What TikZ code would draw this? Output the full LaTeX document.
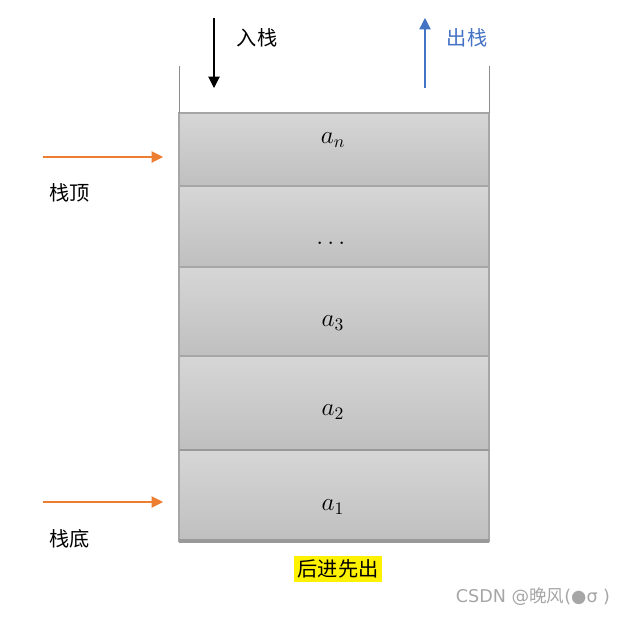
\documentclass[tikz,border=0pt]{standalone}
\usepackage{amsfonts, amssymb, amsmath}
\usepackage{xcolor}
\usepackage{fontspec}
\usepackage{tikz}
\usetikzlibrary{arrows.meta}
\newfontfamily\cjk{Noto Sans CJK SC}
\newfontfamily\symfont{DejaVu Sans}
\definecolor{popblue}{HTML}{4472C4}
\definecolor{markorange}{HTML}{ED7D31}

\begin{document}
\begin{tikzpicture}[x=0.02cm, y=-0.02cm,
  cell/.style={top color=black!16, bottom color=black!25, draw=black!35, line width=0.6pt},
  label/.style={font=\cjk\fontsize{11.5}{13}\selectfont},
  elem/.style={font=\fontsize{14}{16}\selectfont},
  tip/.style={-{Triangle[length=6.5pt,width=6.5pt]}}]
  % Fix the page size
  \useasboundingbox (0,0) rectangle (629,616);

  % Draw the stack cells
  \fill[cell] (179,113) rectangle (489,186);
  \fill[cell] (179,186) rectangle (489,267);
  \fill[cell] (179,267) rectangle (489,356);
  \fill[cell] (179,356) rectangle (489,450);
  \fill[cell] (179,450) rectangle (489,541);
  \draw[black!35, line width=0.6pt] (179,113) rectangle (489,541);
  \draw[black!35, line width=0.6pt] (179,186) -- (489,186);
  \draw[black!35, line width=0.6pt] (179,267) -- (489,267);
  \draw[black!35, line width=0.6pt] (179,356) -- (489,356);
  \draw[black!40, line width=1.2pt] (179,450) -- (489,450);
  \draw[black!40, line width=1.8pt] (179,541) -- (489,541);

  % Open top of the stack
  \draw[black!45, line width=0.4pt] (179,66) -- (179,113);
  \draw[black!45, line width=0.4pt] (489,66) -- (489,113);

  % Elements
  \node[elem] (an) at (333,140) {$a_n$};
  \node[elem] (dots) at (333,243) {$\dots$};
  \node[elem] (a3) at (333,323) {$a_3$};
  \node[elem] (a2) at (333,412) {$a_2$};
  \node[elem] (a1) at (333,507) {$a_1$};

  % Push and pop arrows
  \coordinate (pushstart) at (214,18);
  \coordinate (pushend) at (214,88);
  \draw[tip, line width=0.6pt] (pushstart) -- (pushend);
  \node[label] (push) at (257,38) {入栈};
  \coordinate (popstart) at (425,88);
  \coordinate (popend) at (425,18);
  \draw[tip, popblue, line width=0.6pt] (popstart) -- (popend);
  \node[label, text=popblue] (pop) at (467,38) {出栈};

  % Top and bottom markers
  \coordinate (topstart) at (43,157);
  \coordinate (topend) at (163,157);
  \draw[tip, markorange, line width=0.6pt] (topstart) -- (topend);
  \node[label] (top) at (70,193) {栈顶};
  \coordinate (botstart) at (43,502);
  \coordinate (botend) at (163,502);
  \draw[tip, markorange, line width=0.6pt] (botstart) -- (botend);
  \node[label] (bottom) at (70,539) {栈底};

  % Rule of the stack
  \node[label, fill=yellow, inner sep=2pt] (lifo) at (338,569) {后进先出};

  % Watermark
  \node[font=\symfont\fontsize{10}{12}\selectfont, text=black!35] (mark) at (533,597)
    {CSDN @{\cjk 晚风}(●σ )};
\end{tikzpicture}
\end{document}
